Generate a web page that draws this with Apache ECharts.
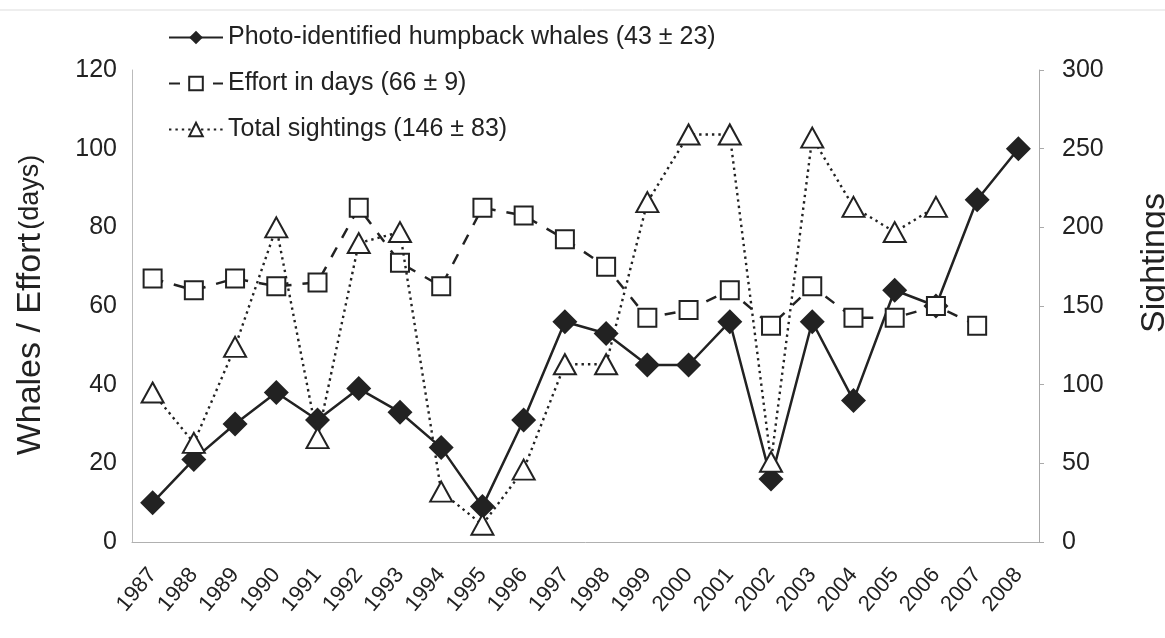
<!DOCTYPE html>
<html><head><meta charset="utf-8">
<script src="https://cdn.jsdelivr.net/npm/echarts@6/dist/echarts.min.js"></script>
<style>html,body{margin:0;padding:0;background:#fff}#c{width:1165px;height:638px}</style>
</head><body><div id="c"></div>
<script>
const years = ['1987','1988','1989','1990','1991','1992','1993','1994','1995','1996','1997','1998','1999','2000','2001','2002','2003','2004','2005','2006','2007','2008'];
const whales = [10,21,30,38,31,39,33,24,9,31,56,53,45,45,56,16,56,36,64,60,87,100];
const effort = [67,64,67,65,66,85,71,65,85,83,77,70,57,59,64,55,65,57,57,60,55,null];
const sightings = [95,63,124,200,66,190,197,32,11,46,113,113,216,259,259,51,257,213,197,213,null,null];
const seriesNames = ['Photo-identified humpback whales (43 ± 23)','Effort in days (66 ± 9)','Total sightings (146 ± 83)'];
const leftTitle = 'Whales / Effort';
const leftTitleUnit = '(days)';
const rightTitle = 'Sightings';

const FONT = '"Liberation Sans", Arial, sans-serif';
const INK = '#222';
const chart = echarts.init(document.getElementById('c'));
chart.setOption({
  animation: false,
  backgroundColor: '#fff',
  textStyle: { fontFamily: FONT },
  grid: { left: 132, right: 126, top: 70, bottom: 96, containLabel: false },
  legend: {
    orient: 'vertical', left: 163, top: 20, itemGap: 21,
    itemWidth: 54, itemHeight: 17,
    textStyle: { fontSize: 25, color: INK, fontFamily: FONT },
    data: seriesNames
  },
  xAxis: {
    type: 'category', data: years, boundaryGap: true,
    axisLine: { show: true, lineStyle: { color: '#b0b0b0', width: 1 } },
    axisTick: { show: false },
    axisLabel: { rotate: 50, fontSize: 22, color: INK, margin: 29, interval: 0, fontFamily: FONT },
    splitLine: { show: false }
  },
  yAxis: [
    {
      type: 'value', min: 0, max: 120, interval: 20, position: 'left',
      axisLine: { show: true, lineStyle: { color: '#bbb', width: 1 } },
      axisTick: { show: false },
      axisLabel: { fontSize: 25, color: INK, margin: 15, fontFamily: FONT },
      splitLine: { show: false }
    },
    {
      type: 'value', min: 0, max: 300, interval: 50, position: 'right',
      axisLine: { show: true, lineStyle: { color: '#aaa', width: 1 } },
      axisTick: { show: true, length: 5, lineStyle: { color: '#aaa' } },
      axisLabel: { fontSize: 25, color: INK, margin: 23, fontFamily: FONT },
      splitLine: { show: false }
    }
  ],
  series: [
    {
      name: seriesNames[0], type: 'line', yAxisIndex: 0, data: whales, z: 3,
      symbol: 'diamond', symbolSize: 25, showAllSymbol: true,
      lineStyle: { color: INK, width: 2.5 },
      itemStyle: { color: INK, borderColor: INK, borderWidth: 0 },
      emphasis: { disabled: true }
    },
    {
      name: seriesNames[1], type: 'line', yAxisIndex: 0, data: effort, z: 4,
      symbol: 'rect', symbolSize: 18, showAllSymbol: true,
      lineStyle: { color: INK, width: 2.5, type: [11, 11] },
      itemStyle: { color: '#fff', borderColor: INK, borderWidth: 2 },
      emphasis: { disabled: true }
    },
    {
      name: seriesNames[2], type: 'line', yAxisIndex: 1, data: sightings, z: 5,
      symbol: 'triangle', symbolSize: [22, 20], showAllSymbol: true,
      lineStyle: { color: INK, width: 2.4, type: [2.4, 4] },
      itemStyle: { color: '#fff', borderColor: INK, borderWidth: 2 },
      emphasis: { disabled: true }
    }
  ],
  graphic: [
    { type: 'line', shape: { x1: 0, y1: 10, x2: 1165, y2: 10 }, style: { stroke: '#ddd', lineWidth: 1 } },
    {
      type: 'text', x: 31, y: 305, rotation: Math.PI / 2,
      style: {
        text: '{a|' + leftTitle + '} {b|' + leftTitleUnit + '}',
        align: 'center', verticalAlign: 'middle', fill: INK,
        rich: { a: { fontSize: 34, fontFamily: FONT, fill: INK }, b: { fontSize: 27, fontFamily: FONT, fill: INK } }
      }
    },
    {
      type: 'text', x: 1155, y: 263, rotation: Math.PI / 2,
      style: { text: rightTitle, font: '34px ' + FONT, align: 'center', verticalAlign: 'middle', fill: INK }
    }
  ]
});
</script></body></html>
